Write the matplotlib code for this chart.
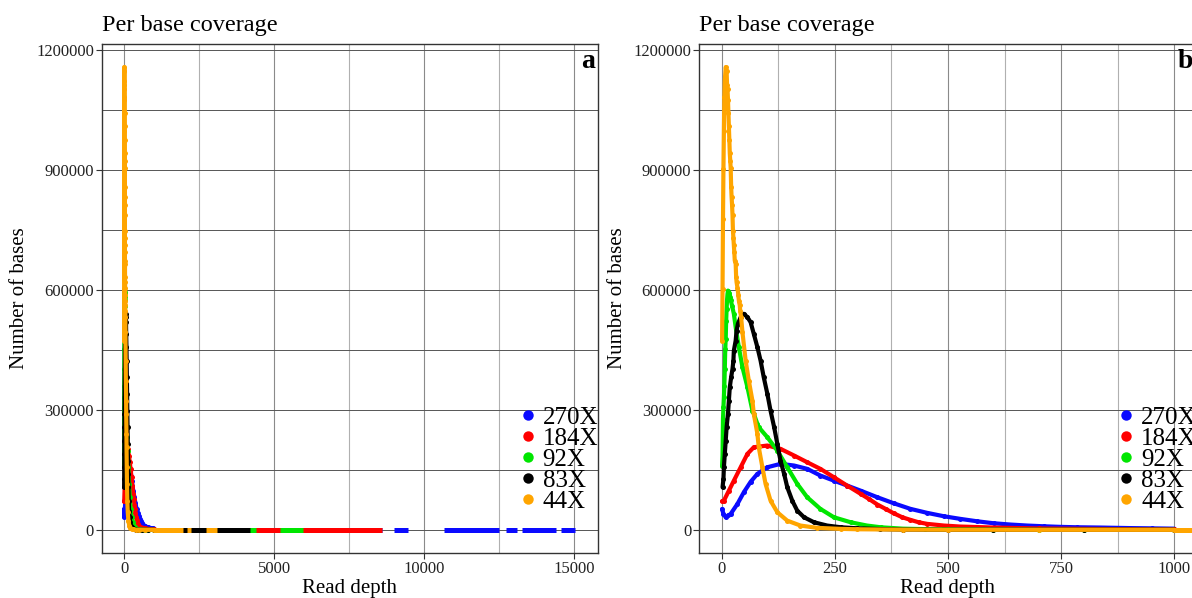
import matplotlib.pyplot as plt
from matplotlib.lines import Line2D

plt.rcParams["font.family"] = ["Liberation Serif", "DejaVu Serif"]

# ---- data (read depth vs number of bases) ----
labels = ["270X", "184X", "92X", "83X", "44X"]
colors = ["#0a0aff", "#ff0000", "#00e600", "#000000", "#ffa500"]

blue_depth = [1, 4, 9, 15, 20, 35, 49, 64, 79, 101, 130, 160, 189, 218, 248, 277, 307,
              344, 380, 417, 454, 491, 527, 564, 601, 638, 675, 711, 748, 785, 836, 900, 950, 1000]
blue_count = [52000, 40000, 31500, 36000, 40000, 65000, 94000, 120000, 140000, 156500, 165000,
              160800, 152500, 135800, 123000, 110800, 98000, 81500, 66500, 52500, 42500, 34000,
              27500, 21500, 16500, 13300, 10800, 9000, 7500, 6500, 5800, 4500, 3800, 3000]

red_depth = [1, 5, 16, 27, 42, 57, 71, 101, 130, 160, 189, 218, 248, 277, 307, 325, 344, 362,
             380, 399, 417, 435, 454, 491, 527, 601, 700, 800, 900, 1000]
red_count = [71500, 73000, 98000, 123000, 156500, 190000, 206500, 210800, 202500, 185800, 169000,
             152500, 131500, 110800, 90000, 77500, 63300, 52500, 41500, 31500, 25000, 19000,
             15000, 10800, 8300, 5800, 3500, 2500, 1800, 1200]

green_depth = [1, 2, 3, 4, 5, 6, 7, 8, 9, 10, 11, 12, 13, 14, 15, 16, 17, 18, 20, 23, 27, 31,
               38, 46, 57, 68, 71, 79, 82, 101, 123, 145, 167, 189, 218, 248, 285, 321, 351,
               400, 450, 500, 600, 700, 800, 1000]
green_count = [160800, 185800, 277500, 306500, 331500, 360800, 402500, 452500, 477500, 523000,
               552500, 575000, 590000, 598000, 594000, 588000, 592000, 583000, 575000, 560000,
               540000, 506500, 456500, 406500, 356500, 298000, 290000, 265000, 256500, 231500,
               198000, 156500, 115000, 81500, 52500, 31500, 19000, 10800, 6500, 3000, 1800,
               1200, 600, 300, 150, 50]

black_depth = [2, 4, 5, 7, 9, 11, 14, 16, 18, 21, 24, 26, 27, 31, 33, 36, 42, 49, 57, 64, 71,
               79, 86, 93, 101, 108, 116, 123, 130, 138, 145, 156, 167, 182, 204, 233, 263, 299,
               350, 400, 500, 600, 800, 1000]
black_count = [106500, 127500, 156500, 190000, 223000, 256500, 290000, 323000, 356500, 381500,
               402500, 423000, 448000, 473000, 498000, 515000, 531500, 540000, 531500, 519000,
               490000, 456500, 423000, 381500, 340000, 298000, 256500, 215000, 173000, 140000,
               106500, 73000, 48000, 31500, 19000, 10800, 6500, 4000, 2000, 800, 300, 150, 50, 20]

orange_depth = [1, 2, 3, 4, 5, 6, 7, 9, 11, 12, 13, 14, 15, 16, 17, 18, 19, 20, 21, 22, 23, 24,
                25, 26, 27, 28, 29, 31, 32, 33, 35, 37, 38, 40, 41, 43, 46, 53, 60, 68, 71, 79,
                82, 90, 97, 108, 123, 145, 174, 211, 263, 300, 400, 500, 700, 1000]
orange_count = [473000, 602500, 777500, 902500, 998000, 1081500, 1123000, 1156500, 1148000,
                1111000, 1101000, 1075000, 1042500, 1009000, 975000, 941500, 923000, 904000,
                858000, 831500, 812500, 787500, 746500, 729000, 711000, 694000, 673000, 665000,
                633000, 619000, 605000, 586000, 573000, 561000, 548000, 531500, 494000, 423000,
                373000, 323000, 290000, 240000, 206500, 156500, 115000, 73000, 44000, 23000,
                10800, 5000, 2500, 1500, 600, 300, 100, 30]

# far tails (points sitting on zero): start/end depth of each visible run
blue_tail = [(1000, 8600), (9000, 9470), (10660, 12480), (12730, 13100), (13250, 14400), (14550, 15040)]
red_tail = [(1000, 8580)]
green_tail = [(1000, 4400), (5200, 5960)]
black_tail = [(1000, 4180)]
orange_tail = [(1000, 1980), (2100, 2230), (2730, 3100)]

y_ticks = [0, 300000, 600000, 900000, 1200000]
y_tick_labels = ["0", "300000", "600000", "900000", "1200000"]
y_minor = [150000, 450000, 750000, 1050000]

series = [
    (blue_depth, blue_count, blue_tail),
    (red_depth, red_count, red_tail),
    (green_depth, green_count, green_tail),
    (black_depth, black_count, black_tail),
    (orange_depth, orange_count, orange_tail),
]


def draw_panel(ax, xlim, xticks, xminor, letter):
    for (depth, count, tail), color in zip(series, colors):
        ax.plot(depth, count, color=color, lw=3.0, marker="o", ms=3.6, mew=0,
                solid_capstyle="round", solid_joinstyle="round", zorder=3)
        for start, end in tail:
            ax.hlines(0, start, end, color=color, lw=3.6, zorder=3)

    ax.set_xlim(*xlim)
    ax.set_ylim(-57800, 1214300)
    ax.set_xticks(xticks)
    ax.set_xticks(xminor, minor=True)
    ax.set_yticks(y_ticks, y_tick_labels)
    ax.set_yticks(y_minor, minor=True)
    ax.tick_params(which="major", length=4, width=0.8, color="#333333", pad=1.5,
                   labelsize=12, labelcolor="#222222")
    ax.tick_params(which="minor", length=0)
    ax.grid(which="both", axis="y", color="#555555", lw=0.7)
    ax.grid(which="major", axis="x", color="#8a8a8a", lw=0.8)
    ax.grid(which="minor", axis="x", color="#b0b0b0", lw=0.8)
    ax.set_axisbelow(True)
    for sp in ax.spines.values():
        sp.set_color("#333333")
        sp.set_linewidth(1.0)

    ax.set_title("Per base coverage", loc="left", fontsize=17.5, pad=9.5)
    ax.set_xlabel("Read depth", fontsize=15, labelpad=2)
    ax.set_ylabel("Number of bases", fontsize=15, labelpad=5)
    ax.text(0.993, 0.99, letter, transform=ax.transAxes, ha="right", va="top",
            fontsize=20, fontweight="bold")

    handles = [Line2D([], [], ls="", marker="o", ms=7.5, mew=0, color=c) for c in colors]
    ax.legend(handles, labels, loc="center left", bbox_to_anchor=(0.843, 0.1837),
              frameon=False, fontsize=18, handlelength=0.6, handletextpad=0.3,
              labelspacing=-0.06, borderpad=0, borderaxespad=0)


fig = plt.figure(figsize=(11.92, 5.98), dpi=100)
ax_a = fig.add_axes([101.5 / 1192, 45 / 598, 496.5 / 1192, 509 / 598])
ax_b = fig.add_axes([699 / 1192, 45 / 598, 498 / 1192, 509 / 598])

draw_panel(ax_a, (-752, 15792), [0, 5000, 10000, 15000], [2500, 7500, 12500], "a")
draw_panel(ax_b, (-50, 1050), [0, 250, 500, 750, 1000], [125, 375, 625, 875], "b")

fig.savefig("out.png", dpi=100)
plt.close(fig)
